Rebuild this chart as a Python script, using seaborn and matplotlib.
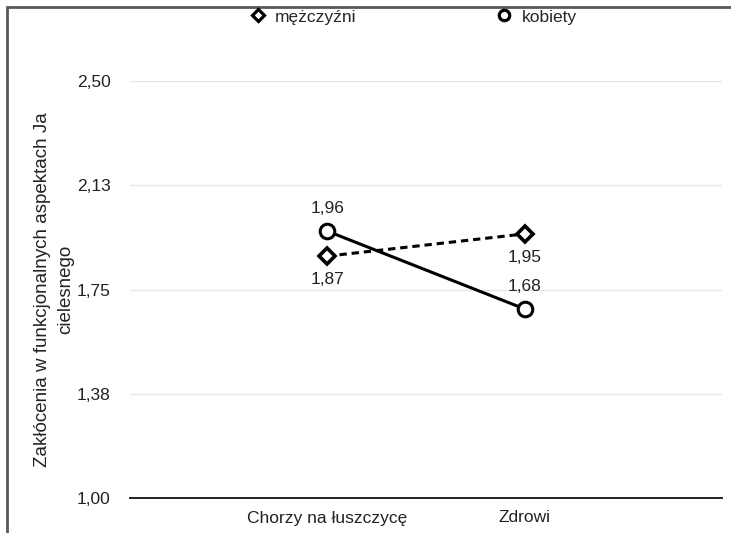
import matplotlib
matplotlib.use("Agg")
import matplotlib.pyplot as plt
import seaborn as sns
import pandas as pd
from matplotlib.patches import Rectangle
from matplotlib.lines import Line2D

groups = ["Chorzy na łuszczycę", "Zdrowi"]
men = [1.87, 1.95]
women = [1.96, 1.68]
series_names = ["mężczyźni", "kobiety"]
y_ticks = [1.00, 1.375, 1.75, 2.125, 2.50]
y_tick_labels = ["1,00", "1,38", "1,75", "2,13", "2,50"]
y_label = "Zakłócenia w funkcjonalnych aspektach Ja\ncielesnego"

sns.set_theme(style="white")
plt.rcParams["font.family"] = ["Liberation Sans", "DejaVu Sans"]

FS = 12.5
TXT = "#222222"

df = pd.DataFrame({
    "grupa": groups * 2,
    "wartosc": men + women,
    "plec": [series_names[0]] * 2 + [series_names[1]] * 2,
})

fig = plt.figure(figsize=(7.31, 5.33), dpi=100)
ax = fig.add_axes([130 / 731, 1 - 498 / 533, 592 / 731, (498 - 81) / 533])

sns.lineplot(
    data=df, x="grupa", y="wartosc", style="plec", hue="plec",
    palette={series_names[0]: "black", series_names[1]: "black"},
    dashes={series_names[0]: (2.4, 1.6), series_names[1]: ""},
    markers={series_names[0]: "D", series_names[1]: "o"},
    linewidth=2.2, markersize=9, markerfacecolor="white",
    markeredgecolor="black", markeredgewidth=2.2,
    legend=False, ax=ax, sort=False,
)
for line in ax.lines:
    if line.get_marker() == "D":
        line.set_markersize(8.5)
        line.set_markeredgewidth(2.6)
    else:
        line.set_markersize(10.5)

ax.set_xlim(-1, 2)
ax.set_ylim(1.0, 2.5)
ax.set_yticks(y_ticks)
ax.set_yticklabels(y_tick_labels)
ax.set_xlabel("")
ax.set_ylabel(y_label, fontsize=13.5, color=TXT, labelpad=2, linespacing=1.45)
ax.tick_params(axis="both", length=0, labelsize=FS, colors=TXT)
ax.tick_params(axis="y", pad=14)
ax.tick_params(axis="x", pad=9)
ax.grid(axis="y", color="#e6e6e6", linewidth=0.9)
ax.set_axisbelow(True)
for s in ["top", "right", "left"]:
    ax.spines[s].set_visible(False)
ax.spines["bottom"].set_color(TXT)
ax.spines["bottom"].set_linewidth(1.4)
ax.get_ygridlines()[0].set_visible(False)

# value labels: men below their markers, women above
for i, v in enumerate(men):
    ax.annotate(f"{v:.2f}".replace(".", ","), (i, v), xytext=(0, -17),
                textcoords="offset points", ha="center", va="center",
                fontsize=FS, color=TXT)
for i, v in enumerate(women):
    ax.annotate(f"{v:.2f}".replace(".", ","), (i, v), xytext=(0, 16),
                textcoords="offset points", ha="center", va="center",
                fontsize=FS, color=TXT)

# legend (markers only)
handles = [
    Line2D([], [], linestyle="none", marker="D", markersize=6.5,
           markerfacecolor="white", markeredgecolor="black", markeredgewidth=2.3),
    Line2D([], [], linestyle="none", marker="o", markersize=7.5,
           markerfacecolor="white", markeredgecolor="black", markeredgewidth=2.3),
]
fig.legend(handles, series_names, loc="center", bbox_to_anchor=(0.565, 1 - 17 / 533),
           ncol=2, frameon=False, fontsize=FS, columnspacing=8.0,
           handletextpad=0.5, handlelength=1.0)

# frame around the figure
fig.add_artist(Rectangle((6.5 / 731, -0.1), 1.2, 1 - 7.5 / 533 + 0.1,
                         transform=fig.transFigure, fill=False,
                         edgecolor="#5a5a5a", linewidth=2))

fig.savefig("out.png", dpi=100)
